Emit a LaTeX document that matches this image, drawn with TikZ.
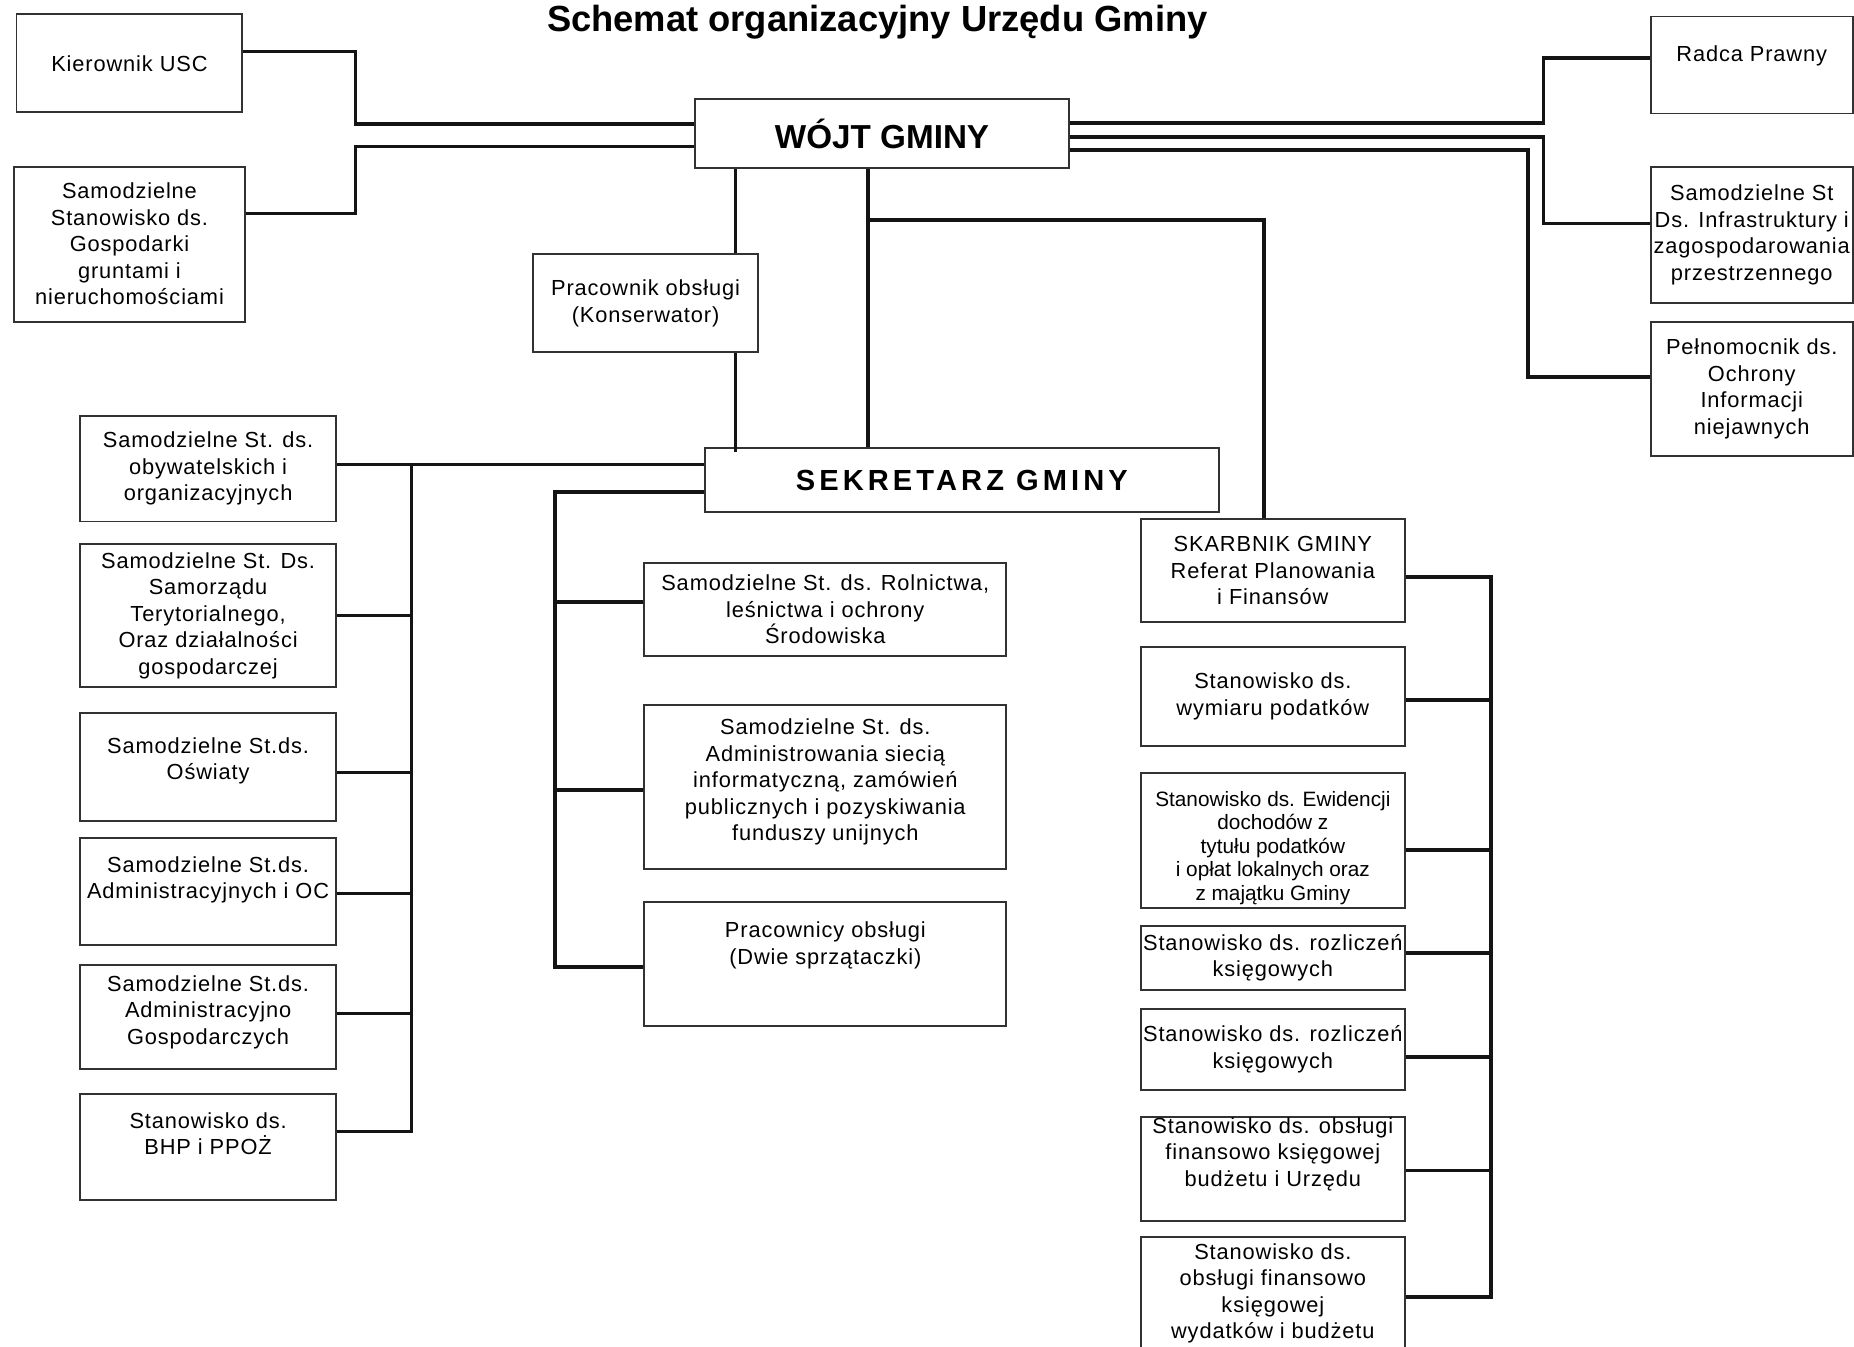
\documentclass[tikz,border=0pt]{standalone}
\usepackage{fontspec}
\setmainfont{Liberation Sans}
\newfontfamily\boxfont[LetterSpace=4]{Liberation Sans}
\newfontfamily\wideboldfont[LetterSpace=14]{Liberation Sans}
\usepackage{tikz}
\usetikzlibrary{positioning,calc}
\definecolor{linkblack}{RGB}{20,20,20}
\definecolor{boxgray}{RGB}{50,50,50}
\tikzset{
  unit-box/.style={draw=boxgray, line width=0.9pt, fill=white, align=center,
    inner sep=1pt, font=\boxfont\fontsize{10.5}{12.75}\selectfont},
  box-size/.style 2 args={minimum width=#1*0.02cm, minimum height=#2*0.02cm},
  box-text/.style={align=center, inner sep=0pt, font=\boxfont\fontsize{10.5}{12.75}\selectfont},
  head-box/.style={unit-box, font=\bfseries\fontsize{16}{19}\selectfont},
  link-line/.style={draw=linkblack, line width=1.7pt},
  stub-line/.style={draw=linkblack, line width=1.5pt},
  title-text/.style={font=\bfseries\fontsize{17.5}{21}\selectfont, anchor=base, inner sep=0pt}
}

\begin{document}
\begin{tikzpicture}[x=0.02cm, y=-0.02cm]
\useasboundingbox (0,0) rectangle (1568,1139);
\fill[white] (0,0) rectangle (1568,1139);

\node[title-text] (title) at (742,27) {Schemat organizacyjny Urzędu Gminy};

% Top level: Wojt and the units attached to him
\node[head-box, box-size={316}{58}] (wojt) at (746,113) {WÓJT GMINY};
\node[unit-box, box-size={191}{83}] (usc) at (109.5,53.5) {Kierownik USC};
\node[unit-box, box-size={195}{131}] (ggn) at (109.5,206.5) {Samodzielne\\Stanowisko ds.\\Gospodarki\\gruntami i\\nieruchomościami};
\node[unit-box, box-size={190}{83}] (prac) at (546,256.5) {Pracownik obsługi\\(Konserwator)};
\node[unit-box, box-size={171}{82}] (radca) at (1481.5,55) {};
\node[box-text] (radca-t) at ($(radca)+(0,-8)$) {Radca Prawny};
\node[unit-box, box-size={171}{115}] (infra) at (1481.5,198.5) {Samodzielne St\\Ds. Infrastruktury i\\zagospodarowania\\przestrzennego};
\node[unit-box, box-size={171}{114}] (peln) at (1481.5,329) {Pełnomocnik ds.\\Ochrony\\Informacji\\niejawnych};

% Sekretarz
\node[unit-box, box-size={435}{54}, font=\wideboldfont\bfseries\fontsize{14}{17}\selectfont] (sekr) at (813.5,406) {SEKRETARZ GMINY};

% Left column
\node[unit-box, box-size={216}{89}] (obyw) at (176,396.5) {Samodzielne St. ds.\\obywatelskich i\\organizacyjnych};
\node[unit-box, box-size={216}{121}] (samorz) at (176,520.5) {Samodzielne St. Ds.\\Samorządu\\Terytorialnego,\\Oraz działalności\\gospodarczej};
\node[unit-box, box-size={216}{91}] (oswiaty) at (176,648.5) {};
\node[box-text] (oswiaty-t) at ($(oswiaty)+(0,-5)$) {Samodzielne St.ds.\\Oświaty};
\node[unit-box, box-size={216}{90}] (admoc) at (176,754) {};
\node[box-text] (admoc-t) at ($(admoc)+(0,-10)$) {Samodzielne St.ds.\\Administracyjnych i OC};
\node[unit-box, box-size={216}{88}] (admgosp) at (176,860) {};
\node[box-text] (admgosp-t) at ($(admgosp)+(0,-4)$) {Samodzielne St.ds.\\Administracyjno\\Gospodarczych};
\node[unit-box, box-size={216}{90}] (bhp) at (176,970) {};
\node[box-text] (bhp-t) at ($(bhp)+(0,-11)$) {Stanowisko ds.\\BHP i PPOŻ};

% Middle column
\node[unit-box, box-size={306}{79}] (rolni) at (698,515.5) {Samodzielne St. ds. Rolnictwa,\\leśnictwa i ochrony\\Środowiska};
\node[unit-box, box-size={306}{139}] (admin) at (698,665.5) {};
\node[box-text] (admin-t) at ($(admin)+(0,-4)$) {Samodzielne St. ds.\\Administrowania siecią\\informatyczną, zamówień\\publicznych i pozyskiwania\\funduszy unijnych};
\node[unit-box, box-size={306}{105}] (sprz) at (698,815.5) {};
\node[box-text] (sprz-t) at ($(sprz)+(0,-16)$) {Pracownicy obsługi\\(Dwie sprzątaczki)};

% Right column: Skarbnik and finance posts
\node[unit-box, box-size={223}{87}] (skarb) at (1076.5,482.5) {SKARBNIK GMINY\\Referat Planowania\\i Finansów};
\node[unit-box, box-size={223}{84}] (wymiar) at (1076.5,589) {Stanowisko ds.\\wymiaru podatków};
\node[unit-box, box-size={223}{114}] (ewid) at (1076.5,711) {};
\node[box-text, font=\rmfamily\fontsize{10}{11.3}\selectfont] (ewid-t) at ($(ewid)+(0,6)$) {Stanowisko ds. Ewidencji\\dochodów z\\tytułu podatków\\i opłat lokalnych oraz\\z majątku Gminy};
\node[unit-box, box-size={223}{54}] (rozl1) at (1076.5,810) {Stanowisko ds. rozliczeń\\księgowych};
\node[unit-box, box-size={223}{69}] (rozl2) at (1076.5,887.5) {Stanowisko ds. rozliczeń\\księgowych};
\node[unit-box, box-size={223}{88}] (budz) at (1076.5,989) {};
\node[box-text] (budz-t) at ($(budz)+(0,-13)$) {Stanowisko ds. obsługi\\finansowo księgowej\\budżetu i Urzędu};
\node[unit-box, box-size={223}{104}] (wyd) at (1076.5,1098) {};
\node[box-text] (wyd-t) at ($(wyd)+(0,-4)$) {Stanowisko ds.\\obsługi finansowo\\księgowej\\wydatków i budżetu};

% Wojt - side units
\draw[link-line] ($(usc.east)+(0,-10)$) -- ++(95,0) |- ($(wojt.west)+(0,-8)$);
\draw[link-line] ($(ggn.east)+(0,-26)$) -- ++(93,0) |- ($(wojt.west)+(0,11)$);
\draw[link-line] ($(wojt.east)+(0,-9)$) -| ($(radca.west)+(-90,-6)$) -- ($(radca.west)+(0,-6)$);
\draw[link-line] ($(wojt.east)+(0,3)$) -| ($(infra.west)+(-90,-9.5)$) -- ($(infra.west)+(0,-9.5)$);
\draw[link-line] ($(wojt.east)+(0,14)$) -| ($(peln.west)+(-103,-10)$) -- ($(peln.west)+(0,-10)$);

% Wojt - Pracownik - Sekretarz, Wojt - Skarbnik
\coordinate (kx) at ($(prac.north)+(76,0)$);
\draw[link-line] (kx) -- (kx |- wojt.south);
\draw[link-line] (kx |- prac.south) -- ($(kx |- sekr.north)+(0,4)$);
\coordinate (sx) at ($(wojt.south west)+(147,0)$);
\draw[link-line] (sx) -- (sx |- sekr.north);
\draw[link-line, line width=2pt] ($(sx)+(0,43)$) -| ($(skarb.north)+(-7.5,0)$);

% Sekretarz - left column
\draw[link-line] ($(sekr.west)+(0,-13)$) -- ($(obyw.east)+(0,-3.5)$);
\draw[stub-line] ($(obyw.east)+(63,-3.5)$) |- ($(bhp.east)+(0,-13)$);
\foreach \boxname/\dy in {samorz/0, oswiaty/4.5, admoc/2, admgosp/-3}
  \draw[stub-line] ($(\boxname.east)+(0,\dy)$) -- ++(63,0);

% Sekretarz - middle column
\draw[link-line] ($(sekr.west)+(0,10)$) -| ($(sprz.west)+(-75,2.5)$) -- ($(sprz.west)+(0,2.5)$);
\foreach \boxname/\dy in {rolni/-6.5, admin/2.5}
  \draw[link-line] ($(\boxname.west)+(0,\dy)$) -- ++(-75,0);

% Skarbnik - right column
\draw[link-line] ($(skarb.east)+(0,5.5)$) -| ($(wyd.east)+(72,-1)$) -- ($(wyd.east)+(0,-1)$);
\foreach \boxname/\dy in {wymiar/3, ewid/8, rozl1/-4, rozl2/6.5, budz/1}
  \draw[link-line] ($(\boxname.east)+(0,\dy)$) -- ++(72,0);
\end{tikzpicture}
\end{document}
